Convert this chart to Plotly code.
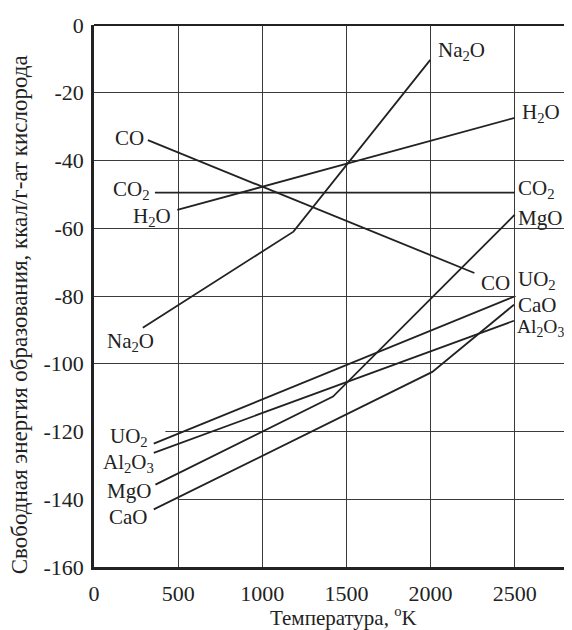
import plotly.graph_objects as go

# ---- data (temperature, K ; free energy, kcal / g-atom O) ----
x_ticks = [0, 500, 1000, 1500, 2000, 2500]
y_ticks = [0, -20, -40, -60, -80, -100, -120, -140, -160]

co_T = [320, 2260]
co_G = [-34.0, -73.2]
co2_T = [362, 2500]
co2_G = [-49.5, -49.5]
h2o_T = [495, 2500]
h2o_G = [-54.6, -27.4]
na2o_T = [290, 1185, 1998]
na2o_G = [-89.4, -61.0, -10.3]
mgo_T = [365, 1420, 2500]
mgo_G = [-135.7, -109.7, -56.0]
cao_T = [355, 2010, 2495]
cao_G = [-143.0, -102.4, -82.6]
uo2_T = [355, 2495]
uo2_G = [-123.6, -80.2]
al2o3_T = [355, 2495]
al2o3_G = [-126.3, -87.3]

series = [
    (co_T, co_G), (co2_T, co2_G), (h2o_T, h2o_G), (na2o_T, na2o_G),
    (mgo_T, mgo_G), (cao_T, cao_G), (uo2_T, uo2_G), (al2o3_T, al2o3_G),
]

# label text, x, y, anchor, font size
labels = [
    ("CO", 305, -33.3, "right", 21),
    ("CO<sub>2</sub>", 338, -48.8, "right", 21),
    ("H<sub>2</sub>O", 466, -56.6, "right", 21),
    ("Na<sub>2</sub>O", 216, -93.5, "center", 21),
    ("UO<sub>2</sub>", 205, -121.6, "center", 21),
    ("Al<sub>2</sub>O<sub>3</sub>", 205, -129.4, "center", 21),
    ("MgO", 205, -137.6, "center", 21),
    ("CaO", 205, -145.2, "center", 21),
    ("Na<sub>2</sub>O", 2035, -7.6, "left", 21),
    ("H<sub>2</sub>O", 2538, -26.0, "left", 21),
    ("CO<sub>2</sub>", 2515, -48.3, "left", 21),
    ("MgO", 2515, -57.0, "left", 21),
    ("CO", 2478, -76.1, "right", 21),
    ("UO<sub>2</sub>", 2515, -75.4, "left", 21),
    ("CaO", 2515, -82.8, "left", 21),
    ("Al<sub>2</sub>O<sub>3</sub>", 2508, -89.4, "left", 19.5),
]

INK = "#222222"
GRID = "#3a3a3a"
FONT = "Liberation Serif"

fig = go.Figure()
for T, G in series:
    fig.add_trace(go.Scatter(x=T, y=G, mode="lines",
                             line=dict(color=INK, width=1.8),
                             showlegend=False, hoverinfo="skip"))

for text, x, y, anchor, size in labels:
    fig.add_annotation(x=x, y=y, xref="x", yref="y", text=text,
                       showarrow=False, xanchor=anchor, yanchor="middle",
                       font=dict(family=FONT, size=size, color=INK),
                       borderpad=0)

# white masks where labels hid the grid in the original
for x0, x1, yc in [(0, 424, -120), (0, 497, -140), (2506, 2840, -80)]:
    fig.add_shape(type="rect", x0=x0, x1=x1, y0=yc - 1, y1=yc + 1,
                  xref="x", yref="y", fillcolor="white",
                  line=dict(width=0), layer="between")

# axis titles
fig.add_annotation(x=0.523, y=-0.092, xref="paper", yref="paper",
                   text="Температура, <sup>o</sup>K", showarrow=False,
                   xanchor="center", yanchor="middle",
                   font=dict(family=FONT, size=21, color=INK))
fig.add_annotation(x=-0.154, y=0.465, xref="paper", yref="paper",
                   text="Свободная энергия образования, ккал/г-ат кислорода",
                   textangle=-90, showarrow=False,
                   xanchor="center", yanchor="middle",
                   font=dict(family=FONT, size=23, color=INK))

fig.update_xaxes(range=[0, 2840], tickvals=x_ticks,
                 ticktext=[str(v) for v in x_ticks],
                 showgrid=True, gridcolor=GRID, gridwidth=1.3,
                 showline=True, linecolor=INK, linewidth=2.5,
                 zeroline=False, ticks="", ticklabelstandoff=5,
                 tickfont=dict(family=FONT, size=22, color=INK))
fig.update_yaxes(range=[-160, 0], tickvals=y_ticks,
                 ticktext=[str(v) for v in y_ticks],
                 showgrid=True, gridcolor=GRID, gridwidth=1.3,
                 showline=True, linecolor=INK, linewidth=2.5,
                 zeroline=True, zerolinecolor=INK, zerolinewidth=2,
                 ticks="", ticklabelstandoff=3,
                 tickfont=dict(family=FONT, size=22, color=INK))

# the page adds an 8px body margin, so the figure is 8px smaller
fig.update_layout(width=564, height=622,
                  margin=dict(l=86, r=0, t=17, b=63),
                  plot_bgcolor="white", paper_bgcolor="white")

fig.write_html("out.html")
